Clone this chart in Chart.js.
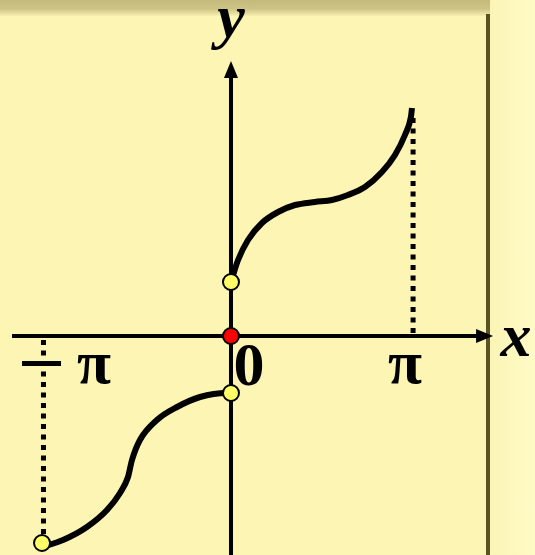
<!DOCTYPE html>
<html>
<head>
<meta charset="utf-8">
<script src="https://cdn.jsdelivr.net/npm/chart.js@4.4.0/dist/chart.umd.min.js"></script>
<style>
html, body { margin: 0; padding: 0; }
body { width: 535px; height: 555px; overflow: hidden; position: relative; background: #fcf5b4; }
#top { position: absolute; left: 0; top: 0; width: 535px; height: 16px;
  background: linear-gradient(#c4ba7c, #cdc384 55%, #f8f0b0); }
#side { position: absolute; left: 490px; top: 0; width: 45px; height: 555px;
  background: linear-gradient(to right, #fbf4b6, #fffbc6); }
#bar { position: absolute; left: 486px; top: 14px; width: 4px; height: 541px; background: #5c5420; }
canvas { position: absolute; left: 0; top: 0; }
</style>
</head>
<body>
<div id="top"></div>
<div id="side"></div>
<div id="bar"></div>
<canvas id="myChart" width="535" height="555"></canvas>
<script>
// x in units of pi, y in arbitrary units
const upperX = [0, 0.039, 0.094, 0.171, 0.260, 0.354, 0.464, 0.558, 0.646, 0.740, 0.834, 0.906, 0.961, 0.994, 1.0];
const upperY = [0.54, 0.76, 0.96, 1.13, 1.24, 1.31, 1.34, 1.36, 1.41, 1.49, 1.64, 1.81, 2.01, 2.19, 2.28];

const lowerX = [-1.044, -0.928, -0.796, -0.685, -0.613, -0.569, -0.547, -0.503, -0.409, -0.298, -0.171, -0.022, 0];
const lowerY = [-2.11, -2.04, -1.91, -1.74, -1.57, -1.41, -1.24, -1.04, -0.84, -0.71, -0.61, -0.57, -0.57];

const openX = [0, 0, -1.044];
const openY = [0.54, -0.57, -2.07];
const solidX = [0];
const solidY = [0];

const dashRightX = [1.006, 1.006];
const dashRightY = [2.18, 0];
const dashLeftX = [-1.036, -1.036];
const dashLeftY = [-0.04, -2.07];

const tickX = [-1.044, 0, 1.0];
const tickLabels = ['−π', '0', 'π'];

// axes extents
const axisX = [-1.21, 1.448];
const axisY = [-2.19, 2.75];

function pts(xs, ys) {
    return xs.map((x, i) => ({x: x, y: ys[i]}));
}

const serif = '"Liberation Serif", "Times New Roman", serif';

const axesPlugin = {
    id: 'axes',
    beforeDatasetsDraw(chart) {
        const ctx = chart.ctx;
        const xs = chart.scales.x, ys = chart.scales.y;
        const x0 = xs.getPixelForValue(0), y0 = ys.getPixelForValue(0);
        const xa = xs.getPixelForValue(axisX[0]), xb = xs.getPixelForValue(axisX[1]);
        const ya = ys.getPixelForValue(axisY[0]), yb = ys.getPixelForValue(axisY[1]);
        ctx.save();
        ctx.strokeStyle = '#000';
        ctx.fillStyle = '#000';
        ctx.lineWidth = 4;
        // x axis
        ctx.beginPath();
        ctx.moveTo(xa, y0);
        ctx.lineTo(xb - 10, y0);
        ctx.stroke();
        ctx.beginPath();
        ctx.moveTo(xb, y0);
        ctx.lineTo(xb - 17, y0 - 7);
        ctx.lineTo(xb - 17, y0 + 7);
        ctx.closePath();
        ctx.fill();
        // y axis
        ctx.beginPath();
        ctx.moveTo(x0, ya);
        ctx.lineTo(x0, yb + 10);
        ctx.stroke();
        ctx.beginPath();
        ctx.moveTo(x0, yb);
        ctx.lineTo(x0 - 7, yb + 17);
        ctx.lineTo(x0 + 7, yb + 17);
        ctx.closePath();
        ctx.fill();
        ctx.restore();
    },
    afterDatasetsDraw(chart) {
        const ctx = chart.ctx;
        const xs = chart.scales.x, ys = chart.scales.y;
        const y0 = ys.getPixelForValue(0);
        ctx.save();
        ctx.fillStyle = '#000';
        ctx.textBaseline = 'alphabetic';
        ctx.font = 'bold 62px ' + serif;
        // -pi
        const xl = xs.getPixelForValue(tickX[0]);
        ctx.fillRect(xl - 20, y0 + 25, 39, 5);
        ctx.textAlign = 'center';
        ctx.fillText(tickLabels[2], xl + 52, y0 + 47);
        // 0
        ctx.fillText(tickLabels[1], xs.getPixelForValue(tickX[1]) + 18, y0 + 49);
        // pi
        ctx.fillText(tickLabels[2], xs.getPixelForValue(tickX[2]) - 7, y0 + 47);
        // axis names
        ctx.font = 'italic bold 62px ' + serif;
        ctx.fillText('x', xs.getPixelForValue(axisX[1]) + 23, y0 + 20);
        ctx.fillText('y', xs.getPixelForValue(0), ys.getPixelForValue(axisY[1]) - 24);
        ctx.restore();
    }
};

const config = {
    type: 'scatter',
    data: {
        datasets: [
            {
                data: pts(solidX, solidY),
                pointRadius: 8,
                pointBackgroundColor: '#ff0000',
                pointBorderColor: '#000',
                pointBorderWidth: 2,
                showLine: false,
                clip: false,
                order: 0
            },
            {
                data: pts(openX, openY),
                pointRadius: 8,
                pointBackgroundColor: '#ffff66',
                pointBorderColor: '#000',
                pointBorderWidth: 2,
                showLine: false,
                clip: false,
                order: 1
            },
            {
                data: pts(upperX, upperY),
                showLine: true,
                borderColor: '#000',
                borderWidth: 6,
                pointRadius: 0,
                cubicInterpolationMode: 'monotone',
                borderCapStyle: 'butt',
                order: 2
            },
            {
                data: pts(lowerX, lowerY),
                showLine: true,
                borderColor: '#000',
                borderWidth: 6,
                pointRadius: 0,
                cubicInterpolationMode: 'monotone',
                borderCapStyle: 'butt',
                order: 3
            },
            {
                data: pts(dashRightX, dashRightY),
                showLine: true,
                borderColor: '#000',
                borderWidth: 5,
                borderDash: [5, 5.5],
                pointRadius: 0,
                order: 4
            },
            {
                data: pts(dashLeftX, dashLeftY),
                showLine: true,
                borderColor: '#000',
                borderWidth: 5,
                borderDash: [5, 5.5],
                pointRadius: 0,
                order: 5
            }
        ]
    },
    options: {
        responsive: false,
        animation: false,
        layout: { padding: 0, autoPadding: false },
        plugins: { legend: { display: false }, tooltip: { enabled: false } },
        scales: {
            x: { type: 'linear', min: -1.2762, max: 1.6796, display: false },
            y: { type: 'linear', min: -2.19, max: 3.36, display: false }
        }
    },
    plugins: [axesPlugin]
};

const myChart = new Chart(document.getElementById('myChart'), config);
</script>
</body>
</html>
